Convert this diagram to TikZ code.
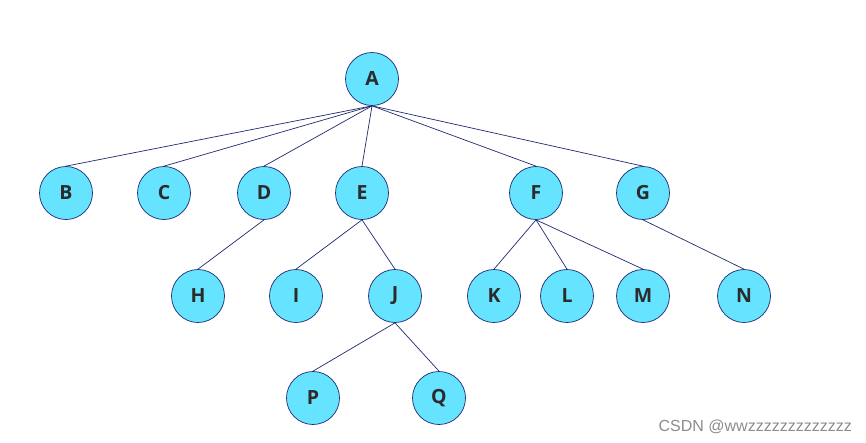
\documentclass[tikz,border=0pt]{standalone}
\usepackage{fontspec}
\setmainfont{Open Sans}
\newfontfamily\wmfont{Liberation Sans}
\definecolor{nodefill}{HTML}{66E3FF}
\definecolor{edgecol}{HTML}{1F2A70}
\definecolor{txtcol}{HTML}{2B2B2B}
\begin{document}
\begin{tikzpicture}[x=1pt,y=-1pt,
  tnode/.style={circle,draw=edgecol,line width=0.7pt,fill=nodefill,minimum size=53pt,inner sep=0pt,
    font=\fontsize{19.5}{21}\selectfont\bfseries,text=txtcol},
  edge/.style={draw=edgecol,line width=0.7pt}]
\useasboundingbox[fill=white] (0,0) rectangle (866,442);
\node[tnode] (A) at (372,79) {A};
\node[tnode] (B) at (66,193) {B};
\node[tnode] (C) at (164,193) {C};
\node[tnode] (D) at (264,193) {D};
\node[tnode] (E) at (362,193) {E};
\node[tnode] (F) at (536,193) {F};
\node[tnode] (G) at (643,193) {G};
\node[tnode] (H) at (198,296) {H};
\node[tnode] (I) at (296,296) {I};
\node[tnode] (J) at (395,296) {J};
\node[tnode] (K) at (494,296) {K};
\node[tnode] (L) at (567,296) {L};
\node[tnode] (M) at (643,296) {M};
\node[tnode] (N) at (744,296) {N};
\node[tnode] (P) at (313,398) {P};
\node[tnode] (Q) at (439,398) {Q};
\foreach \c in {B,C,D,E,F,G} \draw[edge] (A.south) -- (\c.north);
\foreach \c in {H} \draw[edge] (D.south) -- (\c.north);
\foreach \c in {I,J} \draw[edge] (E.south) -- (\c.north);
\foreach \c in {K,L,M} \draw[edge] (F.south) -- (\c.north);
\foreach \c in {N} \draw[edge] (G.south) -- (\c.north);
\foreach \c in {P,Q} \draw[edge] (J.south) -- (\c.north);
\node[anchor=base east,inner sep=0pt,text=black!45,font=\wmfont\fontsize{16}{18}\selectfont] (wm) at (852,431) {CSDN @wwzzzzzzzzzzzzz};
\end{tikzpicture}
\end{document}
